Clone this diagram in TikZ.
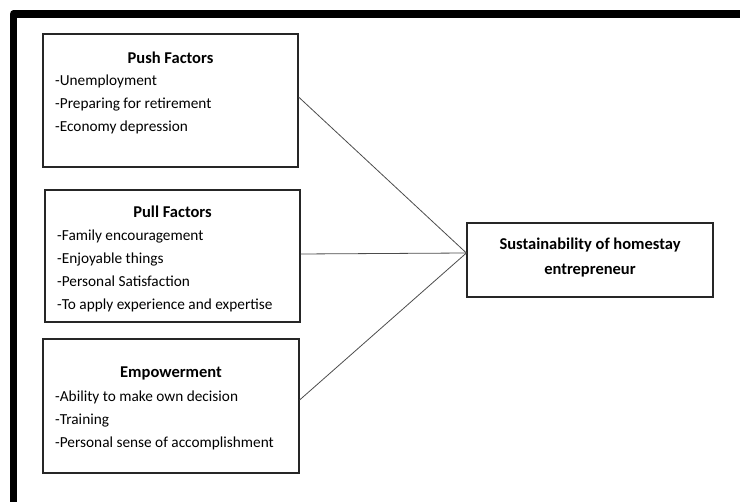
\documentclass[tikz,border=0pt]{standalone}
\usepackage{fontspec}
\setmainfont{Carlito}
\begin{document}
\begin{tikzpicture}[x=1pt,y=-1pt,
  factorbox/.style={draw=black!85,line width=1.2pt,inner sep=0pt,minimum width=255pt,minimum height=134pt},
  ttl/.style={font=\fontsize{16.5}{18}\selectfont\bfseries,anchor=base,inner sep=0pt},
  body/.style={font=\fontsize{15.3}{23}\selectfont,anchor=base west,inner sep=0pt},
  link/.style={draw=black!70,line width=0.8pt}]
\useasboundingbox (0,0) rectangle (740,502);
\draw[line width=7.5pt,line join=round] (13.5,502) -- (13.5,14) -- (740,14);
% boxes
\node[factorbox,minimum height=133pt] (push) at (170.5,100.5) {};
\node[factorbox,minimum height=132pt] (pull) at (172.5,256) {};
\node[factorbox,minimum width=256pt] (emp) at (171,406) {};
\node[draw=black!85,line width=1.2pt,minimum width=246pt,minimum height=74pt,inner sep=0pt] (sust) at (590,260) {};
% texts
\node[ttl] (pusht) at (170.5,63.5) {Push Factors};
\node[body] (pushb) at (55,86) {\begin{tabular}[t]{@{}l@{}}-Unemployment\\-Preparing for retirement\\-Economy depression\end{tabular}};
\node[ttl] (pullt) at (172.5,218) {Pull Factors};
\node[body] (pullb) at (57,241) {\begin{tabular}[t]{@{}l@{}}-Family encouragement\\-Enjoyable things\\-Personal Satisfaction\\-To apply experience and expertise\end{tabular}};
\node[ttl] (empt) at (171,378) {Empowerment};
\node[body,font=\fontsize{15.3}{23}\selectfont] (empb) at (55,402) {\begin{tabular}[t]{@{}l@{}}-Ability to make own decision\\-Training\\-Personal sense of accomplishment\end{tabular}};
\node[ttl,font=\fontsize{16.5}{25}\selectfont\bfseries] (sustt) at (590,250) {\begin{tabular}[t]{@{}c@{}}Sustainability of homestay\\entrepreneur\end{tabular}};
% connectors
\draw[link] (push.east |- 0,97) -- (sust.west |- 0,253);
\draw[link] (pull.east |- 0,254) -- (sust.west |- 0,253);
\draw[link] (emp.east |- 0,400) -- (sust.west |- 0,253);
\end{tikzpicture}
\end{document}
